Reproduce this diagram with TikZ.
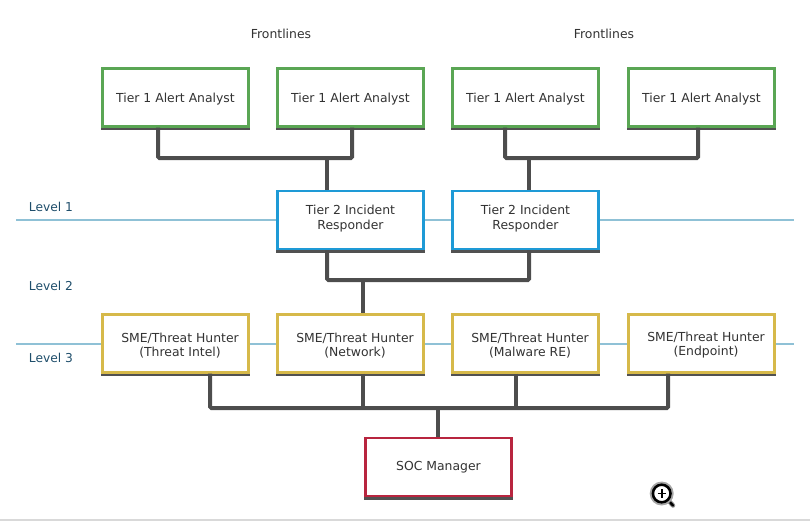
\documentclass[tikz,border=0pt]{standalone}
\usepackage{fontspec}
\setmainfont{DejaVu Sans}
\usetikzlibrary{shadows,calc}
\definecolor{socgreen}{HTML}{5AA654}
\definecolor{socblue}{HTML}{1E9AD6}
\definecolor{socyellow}{HTML}{D6B94A}
\definecolor{socred}{HTML}{B8253F}
\definecolor{soclink}{HTML}{4D4D4D}
\definecolor{socline}{HTML}{8FC1D6}
\definecolor{soclevel}{HTML}{1F4E6B}
\definecolor{soctext}{HTML}{333333}
\newcommand{\alerttext}{\rule{0pt}{10pt}Tier 1 Alert Analyst}
\newcommand{\resptext}{Tier 2 Incident\\Responder\rule[-4.3pt]{0pt}{1pt}}
\newcommand{\hunttext}[1]{\rule{0pt}{10pt}\hspace*{6.75pt}SME/Threat Hunter\\[-0.7pt]\hspace*{6.75pt}(#1)}

\begin{document}
\begin{tikzpicture}[x=0.75pt,y=-0.75pt,
  rolebox/.style={rectangle,fill=white,line width=1.9pt,minimum width=109.2pt,
                  minimum height=43.2pt,inner sep=0pt,align=center,
                  font=\fontsize{9.3}{11.2}\selectfont,text=soctext,
                  drop shadow={shadow xshift=0.2pt,shadow yshift=-2.2pt,shadow scale=1.025,
                               opacity=0.8,fill=black!85}},
  tierone/.style={rolebox,draw=socgreen},
  tiertwo/.style={rolebox,draw=socblue},
  hunter/.style={rolebox,draw=socyellow},
  manager/.style={rolebox,draw=socred},
  link/.style={line width=3pt,soclink,rounded corners=1pt},
  levelline/.style={line width=0.9pt,socline},
  level/.style={font=\fontsize{9.2}{11}\selectfont,text=soclevel},
  front/.style={font=\fontsize{9.3}{11}\selectfont,text=soctext}
]
  \useasboundingbox (0,0) rectangle (810,521);

  % ---- Level lines --------------------------------
  \coordinate (lineAl) at (16,220);
  \coordinate (lineAr) at (794,220);
  \coordinate (lineBl) at (16,344);
  \coordinate (lineBr) at (794,344);
  \draw[levelline] (lineAl) -- (lineAr);
  \draw[levelline] (lineBl) -- (lineBr);

  % ---- Labels --------------------------------
  \node[front] (frontA) at (281,34) {Frontlines};
  \node[front] (frontB) at (604,34) {Frontlines};
  \node[level] (levelA) at (51,207) {Level 1};
  \node[level] (levelB) at (51,286) {Level 2};
  \node[level] (levelC) at (51,358) {Level 3};

  % ---- Tier 1 --------------------------------
  \node[tierone] (alertA) at (175.5,97.5) {\alerttext};
  \node[tierone] (alertB) at (350.5,97.5) {\alerttext};
  \node[tierone] (alertC) at (525.5,97.5) {\alerttext};
  \node[tierone] (alertD) at (701.5,97.5) {\alerttext};

  % ---- Tier 2 --------------------------------
  \node[tiertwo] (respA) at (350.5,220) {\resptext};
  \node[tiertwo] (respB) at (525.5,220) {\resptext};

  % ---- Hunters --------------------------------
  \node[hunter] (huntA) at (175.5,343.5) {\hunttext{Threat Intel}};
  \node[hunter] (huntB) at (350.5,343.5) {\hunttext{Network}};
  \node[hunter] (huntC) at (525.5,343.5) {\hunttext{Malware RE}};
  \node[hunter] (huntD) at (701.5,343.5) {\hunttext{Endpoint}};

  % ---- Manager --------------------------------
  \node[manager] (socman) at (438.5,467) {SOC Manager};

  % ---- Connectors --------------------------------
  \coordinate (busAl) at (158,158);
  \coordinate (busAm) at (327,158);
  \coordinate (busAr) at (352,158);
  \coordinate (busBl) at (505,158);
  \coordinate (busBm) at (529,158);
  \coordinate (busBr) at (698,158);
  \coordinate (busCl) at (327,280);
  \coordinate (busCm) at (362.5,280);
  \coordinate (busCr) at (529,280);
  \coordinate (busDa) at (210,408);
  \coordinate (busDb) at (363,408);
  \coordinate (busDc) at (516,408);
  \coordinate (busDd) at (668,408);
  \coordinate (busDm) at (438,408);

  \draw[link] (alertA.south -| busAl) -- (busAl) -- (busAr) -- (alertB.south -| busAr);
  \draw[link] (busAm) -- (respA.north -| busAm);
  \draw[link] (alertC.south -| busBl) -- (busBl) -- (busBr) -- (alertD.south -| busBr);
  \draw[link] (busBm) -- (respB.north -| busBm);

  \draw[link] (respA.south -| busCl) -- (busCl) -- (busCr) -- (respB.south -| busCr);
  \draw[link] (busCm) -- (huntB.north -| busCm);

  \draw[link] (huntA.south -| busDa) -- (busDa) -- (busDd) -- (huntD.south -| busDd);
  \draw[link] (huntB.south -| busDb) -- (busDb);
  \draw[link] (huntC.south -| busDc) -- (busDc);
  \draw[link] (busDm) -- (socman.north -| busDm);

  % ---- Zoom icon and bottom rule --------------------------------
  \draw[line width=3.4pt,black!45,line cap=round] (668,500) -- (673,505.5);
  \draw[line width=1.8pt,black,line cap=round] (668,500) -- (673,505.5);
  \fill[black!35] (661.7,493.5) circle (12);
  \draw[line width=1.9pt,black,fill=white] (661.7,493.5) circle (8.8);
  \draw[line width=1.2pt,black] (657.5,493.5) -- (666,493.5) (661.7,489.3) -- (661.7,497.8);
  \draw[line width=0.8pt,black!15] (0,520) -- (810,520);
\end{tikzpicture}
\end{document}
